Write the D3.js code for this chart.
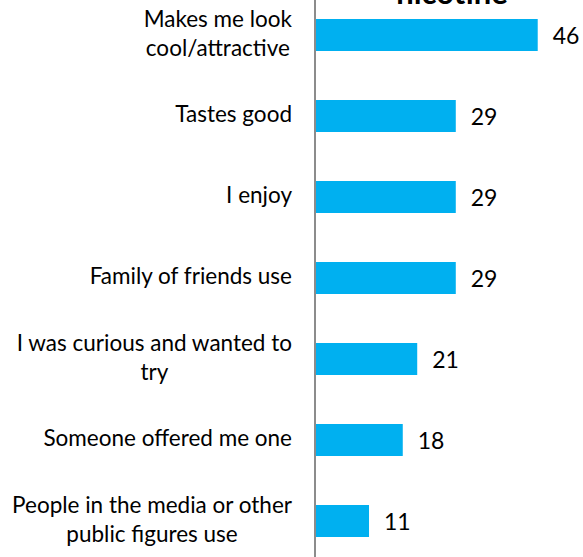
<!DOCTYPE html>
<html>
<head>
<meta charset="utf-8">
<script src="https://cdn.jsdelivr.net/npm/d3@7"></script>
<style>
  html, body { margin: 0; padding: 0; background: #fff; overflow: hidden; }
  svg { display: block; }
  text { font-family: Lato, "Liberation Sans", sans-serif; fill: #000; }
</style>
</head>
<body>
<svg id="chart" width="583" height="557"></svg>
<script>
// Reasons given for using nicotine (%)
const categories = [
  "Makes me look\ncool/attractive",
  "Tastes good",
  "I enjoy",
  "Family of friends use",
  "I was curious and wanted to\ntry",
  "Someone offered me one",
  "People in the media or other\npublic figures use"
];
const values = [46, 29, 29, 29, 21, 18, 11];
const titleText = "nicotine";

const svg = d3.select("#chart");
const labelSize = 22.5;

const x = d3.scaleLinear().domain([0, 55]).range([316, 316 + 55 * 4.82]);
const y = d3.scaleBand()
  .domain(categories)
  .range([-5.5, 561.5])
  .paddingInner(0.605)
  .paddingOuter(0.3025);

// title (second line, running off the top edge)
svg.append("text")
  .attr("x", 452)
  .attr("y", 4)
  .attr("text-anchor", "middle")
  .style("font-size", "31px")
  .style("font-weight", "bold")
  .text(titleText);

// bars
svg.append("g").selectAll("rect")
  .data(values)
  .join("rect")
  .attr("x", x(0))
  .attr("y", (d, i) => y(categories[i]))
  .attr("width", d => x(d) - x(0))
  .attr("height", y.bandwidth())
  .attr("fill", "#00B0F0");

// category axis line
svg.append("line")
  .attr("x1", 315).attr("x2", 315)
  .attr("y1", 0).attr("y2", 557)
  .attr("stroke", "#8c8c8c")
  .attr("stroke-width", 2);

// category labels: block right-aligned to the axis, lines centred within the block
const labelRight = 292;
const lineGap = 29;
categories.forEach(cat => {
  const lines = cat.split("\n");
  const cy = y(cat) + y.bandwidth() / 2;
  const g = svg.append("g");
  const texts = lines.map((ln, k) => g.append("text")
    .style("font-size", labelSize + "px")
    .attr("y", cy + 6 + (k - (lines.length - 1) / 2) * lineGap)
    .text(ln));
  const widths = texts.map(t => t.node().getComputedTextLength());
  const blockW = d3.max(widths);
  texts.forEach(t => {
    t.attr("x", labelRight - blockW / 2).attr("text-anchor", "middle");
  });
});

// value labels
svg.append("g").selectAll("text")
  .data(values)
  .join("text")
  .attr("x", d => x(d) + 15)
  .attr("y", (d, i) => y(categories[i]) + y.bandwidth() / 2 + 9)
  .style("font-size", "23px")
  .text(d => d);
</script>
</body>
</html>
